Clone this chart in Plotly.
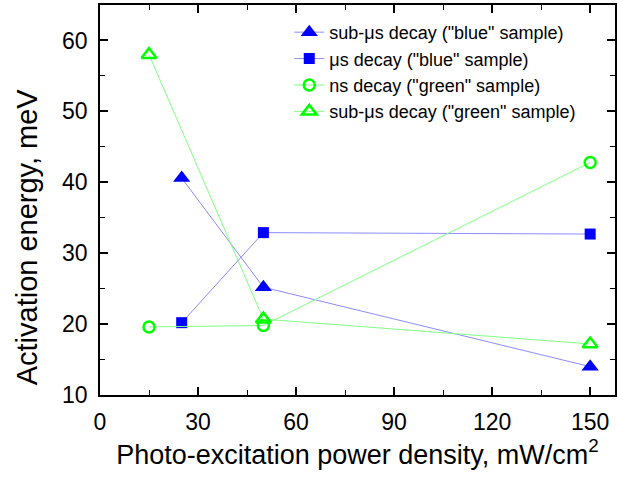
import plotly.graph_objects as go

power_blue = [25, 50, 150]
power_green = [15, 50, 150]
sub_us_blue = [40.6, 25.2, 14.0]
us_blue = [20.2, 32.9, 32.7]
ns_green = [19.6, 19.8, 42.8]
sub_us_green = [58.0, 20.7, 17.2]

x_ticks = [0, 30, 60, 90, 120, 150]
y_ticks = [10, 20, 30, 40, 50, 60]

BLUE = "#0000ff"
BLUE_LINE = "#8c8cff"
GREEN = "#00ff00"
GREEN_LINE = "#80ff80"
FONT = "Liberation Sans, Arial"

fig = go.Figure()
fig.add_trace(go.Scatter(
    x=power_blue, y=sub_us_blue, mode="lines+markers",
    name='sub-μs decay ("blue" sample)',
    line=dict(color=BLUE_LINE, width=1),
    marker=dict(symbol="triangle-up", size=15, color=BLUE, line=dict(width=0))))
fig.add_trace(go.Scatter(
    x=power_blue, y=us_blue, mode="lines+markers",
    name='μs decay ("blue" sample)',
    line=dict(color=BLUE_LINE, width=1),
    marker=dict(symbol="square", size=11, color=BLUE, line=dict(width=0))))
fig.add_trace(go.Scatter(
    x=power_green, y=ns_green, mode="lines+markers",
    name='ns decay ("green" sample)',
    line=dict(color=GREEN_LINE, width=1),
    marker=dict(symbol="circle-open", size=11, color=GREEN, line=dict(width=2.5, color=GREEN))))
fig.add_trace(go.Scatter(
    x=power_green, y=sub_us_green, mode="lines+markers",
    name='sub-μs decay ("green" sample)',
    line=dict(color=GREEN_LINE, width=1),
    marker=dict(symbol="triangle-up-open", size=13, color=GREEN, line=dict(width=2.5, color=GREEN))))

axis_common = dict(
    showgrid=False, zeroline=False, showline=True, linecolor="black", linewidth=1.5,
    mirror="allticks", ticks="inside", ticklen=8, tickwidth=1.5, tickcolor="black",
    tickfont=dict(family=FONT, size=23, color="black"),
)

fig.update_xaxes(
    range=[0, 157.6], tickvals=x_ticks, ticktext=[str(v) for v in x_ticks],
    ticklabelstandoff=6,
    minor=dict(dtick=15, tick0=0, ticks="inside", ticklen=5, tickwidth=1, tickcolor="black"),
    title=dict(text="Photo-excitation power density, mW/cm<sup>2</sup>",
               font=dict(family=FONT, size=27, color="black"), standoff=10),
    **axis_common)
fig.update_yaxes(
    range=[10, 65], tickvals=y_ticks, ticktext=[str(v) for v in y_ticks],
    ticklabelstandoff=6,
    minor=dict(dtick=5, tick0=0, ticks="inside", ticklen=5, tickwidth=1, tickcolor="black"),
    **axis_common)

fig.add_annotation(
    text="Activation energy, meV", textangle=-90,
    xref="paper", yref="paper", x=-0.1412, y=0.405,
    xanchor="center", yanchor="middle", showarrow=False,
    font=dict(family=FONT, size=29, color="black"))

fig.update_layout(
    width=617, height=481,
    margin=dict(l=100, r=0, t=5, b=86),
    paper_bgcolor="white", plot_bgcolor="white",
    showlegend=True,
    legend=dict(x=0.3675, y=0.977, xanchor="left", yanchor="top",
                bgcolor="rgba(0,0,0,0)", borderwidth=0,
                font=dict(family=FONT, size=18, color="black"),
                tracegroupgap=0, itemsizing="trace"),
)

fig.write_html("out.html")
